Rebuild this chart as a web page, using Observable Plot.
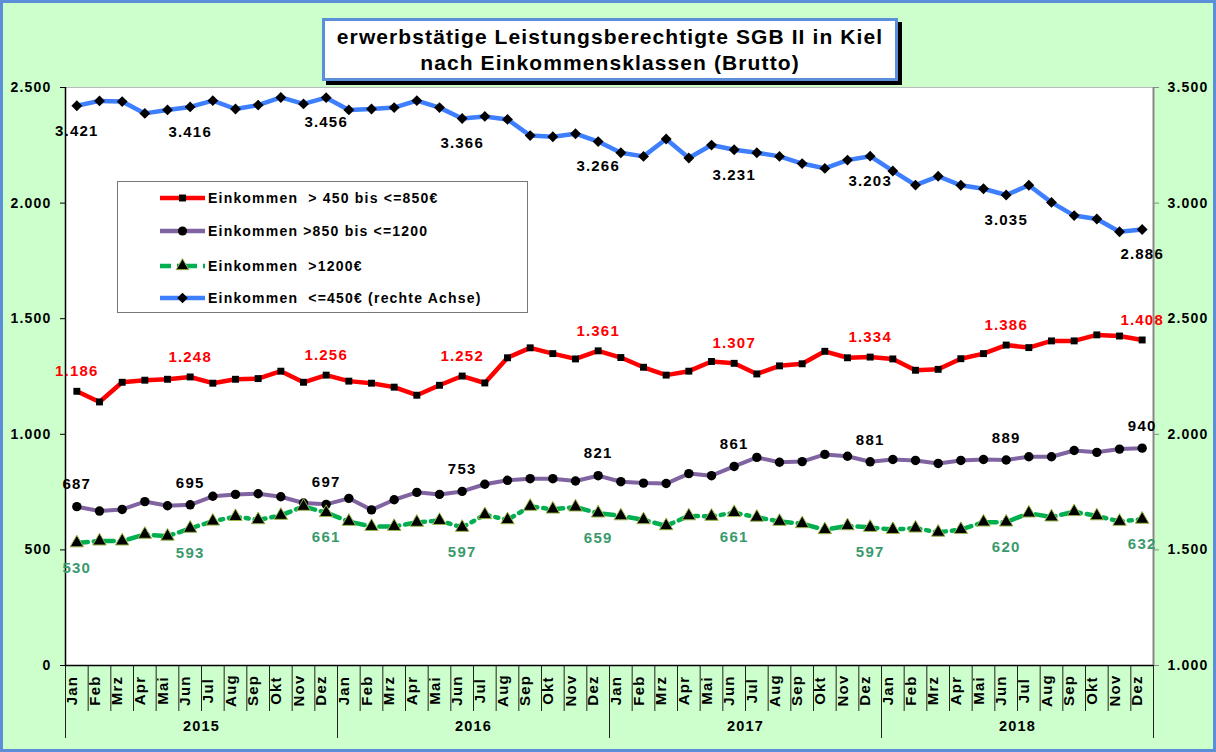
<!DOCTYPE html>
<html><head><meta charset="utf-8">
<script src="https://cdn.jsdelivr.net/npm/d3@7"></script>
<script src="https://cdn.jsdelivr.net/npm/@observablehq/plot@0.6"></script>
<style>
body{margin:0;background:#ccffcc;}
#wrap{position:relative;width:1216px;height:752px;background:#ccffcc;overflow:hidden;font-family:"Liberation Sans",Arial,sans-serif;}
#wrap svg.plot{position:absolute;left:0;top:0;}
#wrap svg.plot text{letter-spacing:1.2px;}
#border{position:absolute;left:0;top:0;width:1216px;height:752px;box-sizing:border-box;border:3px solid #5b8fd9;pointer-events:none;}
#title{position:absolute;left:322px;top:18px;width:576px;height:63px;box-sizing:border-box;background:#fff;border:3px solid #5b8fd9;box-shadow:4px 4px 0 #000;text-align:center;font-weight:bold;font-size:21px;letter-spacing:1.1px;line-height:26px;padding-top:3px;color:#000;white-space:nowrap;}
#legend text{letter-spacing:1.2px;}
</style>
</head><body>
<div id="wrap">
<div id="title">erwerbstätige Leistungsberechtigte SGB II in Kiel<br>nach Einkommensklassen (Brutto)</div>
<div id="border"></div>
</div>
<script>
const months = ["Jan","Feb","Mrz","Apr","Mai","Jun","Jul","Aug","Sep","Okt","Nov","Dez"];
const years = ["2015","2016","2017","2018"];
const seriesNames = [
  "Einkommen  > 450 bis <=850€",
  "Einkommen >850 bis <=1200",
  "Einkommen  >1200€",
  "Einkommen  <=450€ (rechte Achse)"
];
const valRed = [
  1186,1140,1225,1234,1238,1248,1221,1238,1241,1273,1225,1256,
  1230,1221,1204,1169,1212,1252,1222,1331,1374,1349,1326,1361,
  1332,1290,1256,1273,1315,1307,1261,1296,1305,1359,1331,1334,
  1326,1277,1281,1327,1349,1386,1375,1404,1404,1430,1425,1408
];
const valPurple = [
  687,668,675,709,691,695,732,740,743,730,703,697,
  723,673,717,749,740,753,784,801,808,808,798,821,
  795,789,787,830,821,861,900,879,882,913,905,881,
  891,887,874,887,891,889,903,903,930,922,936,940
];
const valGreen = [
  530,538,538,567,559,593,624,644,630,649,688,661,
  623,601,601,619,627,597,652,630,688,676,685,659,
  647,630,604,647,645,661,641,623,613,587,604,597,
  588,594,576,588,620,620,659,642,665,647,623,632
];
const valBlue = [
  3421,3442,3439,3388,3403,3416,3443,3407,3424,3457,3429,3456,
  3403,3407,3413,3443,3413,3366,3375,3362,3292,3287,3300,3266,
  3218,3202,3277,3195,3251,3231,3218,3202,3171,3150,3186,3203,
  3139,3078,3116,3077,3062,3035,3077,3003,2946,2931,2876,2886
];
const leftTicks = [0,500,1000,1500,2000,2500];
const rightTicks = [1000,1500,2000,2500,3000,3500];
const labelIdx = [0,5,11,17,23,29,35,41,47];

const de = d3.formatLocale({decimal:",", thousands:".", grouping:[3], currency:["","€"]});
const fmt = de.format(",d");
const rightOffset = 1000; // right axis = left axis + 1000

const rows = arr => arr.map((v,i)=>({i, v}));
const red = rows(valRed), purple = rows(valPurple), green = rows(valGreen), blue = rows(valBlue);
const lab = arr => arr.filter(d => labelIdx.includes(d.i));
const idx = d3.range(48);
const halfs = d3.range(49).map(i => i - 0.5);
const yearBounds = [-0.5, 11.5, 23.5, 35.5, 47.5];

const cRed = "#ff0000", cPurple = "#8064a2", cGreen = "#00b050", cBlue = "#3d7fff", cGreenLab = "#3a9a6c";
const font = "'Liberation Sans', Arial, sans-serif";

const chart = Plot.plot({
  width: 1216, height: 752,
  marginLeft: 65, marginRight: 63, marginTop: 87, marginBottom: 87,
  style: {background: "transparent", fontFamily: font, fontWeight: "bold", color: "#000", overflow: "visible"},
  x: {domain: [-0.5, 47.5]},
  y: {domain: [0, 2500]},
  marks: [
    Plot.frame({fill: "white", stroke: "none"}),
    Plot.ruleY([2500], {stroke: "#bbb"}),
    Plot.axisY(leftTicks, {anchor: "left", tickFormat: fmt, tickSize: 5, tickPadding: 9, fontSize: 14, fontWeight: "bold", label: null, stroke: "#000"}),
    Plot.axisY(rightTicks.map(v => v - rightOffset), {anchor: "right", tickFormat: d => fmt(d + rightOffset), tickSize: 5, tickPadding: 9, fontSize: 14, fontWeight: "bold", label: null, stroke: "#888"}),
    Plot.axisX(halfs, {tickSize: 46, tickFormat: () => "", label: null, stroke: "#222"}),
    Plot.axisX(yearBounds, {tickSize: 73, tickFormat: () => "", label: null, stroke: "#222"}),
    Plot.ruleX([-0.5], {stroke: "#000", strokeWidth: 1.5}),
    Plot.ruleX([47.5], {stroke: "#888", strokeWidth: 2}),
    Plot.ruleY([0], {stroke: "#000", strokeWidth: 1.5}),
    Plot.text(idx, {x: d => d, text: d => months[d % 12], frameAnchor: "bottom", dy: 25, rotate: -90, fontSize: 15, fontWeight: "bold", fill: "#000"}),
    Plot.text(years, {x: (d, i) => i * 12 + 5.5, text: d => d, frameAnchor: "bottom", dy: 65, fontSize: 14.5, fontWeight: "bold", fill: "#000"}),
    // blue (right axis)
    Plot.line(blue, {x: "i", y: d => d.v - rightOffset, stroke: cBlue, strokeWidth: 4.5}),
    Plot.dot(blue, {x: "i", y: d => d.v - rightOffset, symbol: "diamond2", r: 4.9, fill: "#000", stroke: "none"}),
    Plot.text(lab(blue), {x: "i", y: d => d.v - rightOffset, text: d => fmt(d.v), dy: 25, fontSize: 15, fontWeight: "bold", fill: "#000"}),
    // red
    Plot.line(red, {x: "i", y: "v", stroke: cRed, strokeWidth: 4.5}),
    Plot.dot(red, {x: "i", y: "v", symbol: "square", r: 3.9, fill: "#000", stroke: "none"}),
    Plot.text(lab(red), {x: "i", y: "v", text: d => fmt(d.v), dy: -20, fontSize: 15, fontWeight: "bold", fill: cRed}),
    // purple
    Plot.line(purple, {x: "i", y: "v", stroke: cPurple, strokeWidth: 4}),
    Plot.dot(purple, {x: "i", y: "v", symbol: "circle", r: 4.7, fill: "#000", stroke: "none"}),
    Plot.text(lab(purple), {x: "i", y: "v", text: d => fmt(d.v), dy: -22, fontSize: 15, fontWeight: "bold", fill: "#000"}),
    // green
    Plot.line(green, {x: "i", y: "v", stroke: cGreen, strokeWidth: 4.5, strokeDasharray: "11,6,3,6"}),
    Plot.dot(green, {x: "i", y: "v", symbol: "triangle", r: 5, fill: "#000", stroke: "#9ab84a", strokeWidth: 1}),
    Plot.text(lab(green), {x: "i", y: "v", text: d => fmt(d.v), dy: 25, fontSize: 15, fontWeight: "bold", fill: cGreenLab})
  ]
});
chart.classList.add("plot");
const wrap = document.getElementById("wrap");
wrap.insertBefore(chart, wrap.firstChild);

// Legend
const lw = 410, lh = 131;
const leg = d3.create("svg").attr("id", "legend").attr("width", lw + 1).attr("height", lh + 1)
  .style("position", "absolute").style("left", "117px").style("top", "181px");
leg.append("rect").attr("x", 0.5).attr("y", 0.5).attr("width", lw).attr("height", lh).attr("fill", "#fff").attr("stroke", "#777");
const legItems = [
  {name: seriesNames[0], color: cRed, dash: null, sym: d3.symbolSquare, size: 48, stroke: "none"},
  {name: seriesNames[1], color: cPurple, dash: null, sym: d3.symbolCircle, size: 66, stroke: "none"},
  {name: seriesNames[2], color: cGreen, dash: "11,6,3,6", sym: d3.symbolTriangle, size: 70, stroke: "#9ab84a"},
  {name: seriesNames[3], color: cBlue, dash: null, sym: d3.symbolDiamond2, size: 72, stroke: "none"}
];
const rowY = [17, 50, 85, 117];
legItems.forEach((it, k) => {
  const g = leg.append("g").attr("transform", `translate(0,${rowY[k]})`);
  g.append("line").attr("x1", 43).attr("x2", 88).attr("y1", 0).attr("y2", 0)
    .attr("stroke", it.color).attr("stroke-width", 4.5).attr("stroke-dasharray", it.dash);
  g.append("path").attr("d", d3.symbol(it.sym, it.size)()).attr("transform", "translate(65.5,0)")
    .attr("fill", "#000").attr("stroke", it.stroke);
  g.append("text").attr("x", 91).attr("y", 0).attr("dy", "0.35em")
    .style("white-space", "pre").attr("font-family", font).attr("font-weight", "bold").attr("font-size", 14)
    .text(it.name);
});
wrap.insertBefore(leg.node(), document.getElementById("title"));
</script>
</body></html>
